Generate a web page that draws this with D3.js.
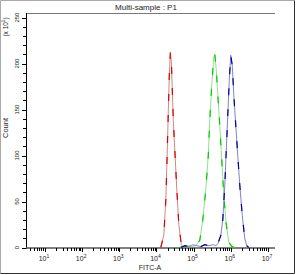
<!DOCTYPE html>
<html lang="en">
<head>
  <meta charset="UTF-8">
  <script src="https://d3js.org/d3.v7.min.js"></script>
  <title>Multi-sample : P1</title>
  <style>
    body { margin:0; background:#fff; }
    text { font-family: "Liberation Sans", Arial, sans-serif; fill:#222; }
  </style>
</head>
<body>
  <svg id="chart" width="296" height="275"></svg>
  <script>
    // histogram series: FITC-A intensity vs event count
    const redX   = [13100, 15800, 17900, 19600, 20900, 22200, 23700, 25200, 26700, 28400, 31200, 35300, 40000, 46700, 54600];
    const redY   = [0, 138, 520, 1060, 1500, 1880, 2120, 2020, 1710, 1390, 1060, 630, 250, 30, 0];

    const greenX = [42600, 54600, 69800, 89500, 114600, 146800, 176700, 212800, 248300, 272400, 308300, 348900, 371300, 407400, 447700, 505800, 572700, 648400, 756800, 883300, 1064000, 1282000];
    const greenY = [0, 10, 20, 10, 20, 80, 300, 630, 1000, 1390, 1770, 2070, 2100, 1930, 1660, 1330, 950, 570, 250, 60, 10, 0];

    const blueX  = [45300, 58000, 74300, 95100, 121800, 156200, 200000, 256400, 328300, 395400, 447700, 538500, 609900, 690500, 756800, 830000, 912000, 1000000, 1096000, 1205000, 1362000, 1542000, 1746000, 2037000, 2377000, 2692000, 3048000];
    const blueY  = [0, 20, 10, 30, 20, 10, 30, 20, 30, 20, 40, 130, 300, 680, 1060, 1440, 1820, 2090, 1980, 1660, 1330, 1000, 680, 350, 100, 20, 0];

    const yTicks = [0, 500, 1000, 1500, 2000, 2500];
    const xTicks = [1e1, 1e2, 1e3, 1e4, 1e5, 1e6, 1e7];

    const svg = d3.select("#chart");

    // frame round the picture
    svg.append("line").attr("x1",0.5).attr("y1",0.5).attr("x2",0.5).attr("y2",273.5).attr("stroke","#aaa");
    svg.append("line").attr("x1",0.5).attr("y1",0.5).attr("x2",294.5).attr("y2",0.5).attr("stroke","#aaa");
    svg.append("line").attr("x1",294.5).attr("y1",0.5).attr("x2",294.5).attr("y2",273.5).attr("stroke","#333");
    svg.append("line").attr("x1",0.5).attr("y1",273.5).attr("x2",294.5).attr("y2",273.5).attr("stroke","#333");

    const x = d3.scaleLog().domain([Math.pow(10,0.49), Math.pow(10,7.19)]).range([26, 275]);
    const y = d3.scaleLinear().domain([0, 2550]).range([247.5, 13]);

    svg.append("text").attr("x",146).attr("y",10).attr("text-anchor","middle")
      .attr("font-size",8).text("Multi-sample : P1");
    svg.append("line").attr("x1",26).attr("x2",275).attr("y1",13.5).attr("y2",13.5).attr("stroke","#777");

    // y axis: minor every 100, labelled every 500
    const yMinor = d3.range(0, 2551, 100);
    const gy = svg.append("g");
    gy.append("line").attr("x1",26.5).attr("x2",26.5).attr("y1",13).attr("y2",y(0)).attr("stroke","#000");
    gy.selectAll(".yt").data(yMinor).enter().append("line")
      .attr("x1",d => d % 500 === 0 ? 22 : 23).attr("x2",26.5)
      .attr("y1",d => Math.round(y(d)) + 0.5).attr("y2",d => Math.round(y(d)) + 0.5)
      .attr("stroke","#000");
    gy.selectAll(".yl").data(yTicks).enter().append("text")
      .attr("transform",d => `translate(19,${y(d)}) rotate(-90)`)
      .attr("text-anchor","middle").attr("font-size",6)
      .text(d => d / 10);
    svg.append("text").attr("transform","translate(8,27) rotate(-90)")
      .attr("text-anchor","middle").attr("font-size",6.5)
      .html('(x 10<tspan dy="-3" font-size="4.5">1</tspan><tspan dy="3">)</tspan>');
    svg.append("text").attr("transform","translate(8,128) rotate(-90)")
      .attr("text-anchor","middle").attr("font-size",7.5).text("Count");

    // x axis: log decades with minor ticks
    const xMinor = [];
    for (let e = 0; e <= 7; e++) for (let m = 1; m < 10; m++) {
      const v = m * Math.pow(10, e);
      if (v >= x.domain()[0] && v <= x.domain()[1]) xMinor.push(v);
    }
    const gx = svg.append("g");
    gx.append("line").attr("x1",26).attr("x2",275).attr("y1",248).attr("y2",248).attr("stroke","#000");
    gx.selectAll(".xt").data(xMinor).enter().append("line")
      .attr("x1",d => Math.round(x(d)) + 0.5).attr("x2",d => Math.round(x(d)) + 0.5)
      .attr("y1",248).attr("y2",d => xTicks.includes(d) ? 252 : 251)
      .attr("stroke","#000");
    gx.selectAll(".xl").data(xTicks).enter().append("text")
      .attr("x",d => x(d) - 1).attr("y",261).attr("text-anchor","middle").attr("font-size",7)
      .html(d => `10<tspan dy="-3" font-size="5">${Math.round(Math.log10(d))}</tspan>`);
    svg.append("text").attr("x",150).attr("y",270).attr("text-anchor","middle")
      .attr("font-size",7).text("FITC-A");

    // histograms: light solid line with a dashed darker overlay
    const line = d3.line().x(d => x(d[0])).y(d => y(d[1]));
    const series = [
      {xs: redX,   ys: redY,   light: "#c47a74", dark: "#d80000"},
      {xs: greenX, ys: greenY, light: "#7ee07e", dark: "#00cc00"},
      {xs: blueX,  ys: blueY,  light: "#7373c8", dark: "#0000a0"}
    ];
    series.forEach(s => {
      const pts = s.xs.map((v, i) => [v, s.ys[i]]);
      svg.append("path").attr("d", line(pts)).attr("fill","none")
        .attr("stroke", s.light).attr("stroke-width", 0.9);
      svg.append("path").attr("d", line(pts)).attr("fill","none")
        .attr("stroke", s.dark).attr("stroke-width", 1.2).attr("stroke-dasharray","7,14");
    });
  </script>
</body>
</html>
